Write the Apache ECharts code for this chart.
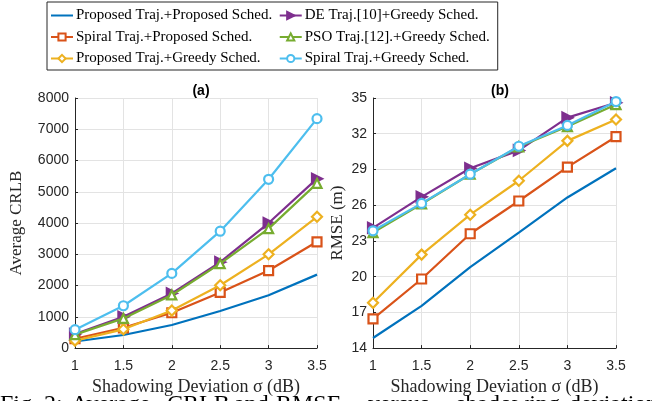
<!DOCTYPE html>
<html>
<head>
<meta charset="utf-8">
<script src="https://cdn.jsdelivr.net/npm/echarts@6/dist/echarts.min.js"></script>
<style>
  html, body { margin: 0; padding: 0; background: #fff; }
  #main { width: 652px; height: 401px; }
</style>
</head>
<body>
<div id="main"></div>
<script>
// shadowing deviation sigma (dB)
var sigma = [1, 1.5, 2, 2.5, 3, 3.5];

var names = [
  "Proposed Traj.+Proposed Sched.",
  "Spiral Traj.+Proposed Sched.",
  "Proposed Traj.+Greedy Sched.",
  "DE Traj.[10]+Greedy Sched.",
  "PSO Traj.[12].+Greedy Sched.",
  "Spiral Traj.+Greedy Sched."
];

// (a) average CRLB
var crlbPropProp = [210, 420, 740, 1185, 1690, 2350];
var crlbSpiralProp = [300, 650, 1130, 1780, 2480, 3400];
var crlbPropGreedy = [240, 600, 1200, 2010, 3000, 4200];
var crlbDE = [450, 1000, 1750, 2750, 4000, 5420];
var crlbPSO = [430, 950, 1700, 2700, 3820, 5270];
var crlbSpiralGreedy = [590, 1355, 2390, 3740, 5400, 7340];

// (b) RMSE (m)
var rmsePropProp = [14.85, 17.55, 20.8, 23.7, 26.65, 29.1];
var rmseSpiralProp = [16.45, 19.8, 23.6, 26.35, 29.2, 31.75];
var rmsePropGreedy = [17.8, 21.85, 25.2, 28.05, 31.4, 33.2];
var rmseDE = [24.1, 26.7, 29.1, 30.6, 33.35, 34.6];
var rmsePSO = [23.7, 26.1, 28.6, 30.9, 32.6, 34.45];
var rmseSpiralGreedy = [23.85, 26.15, 28.6, 30.95, 32.7, 34.7];

// caption words (cut off by the bottom edge, as in the source figure)
var captionWords = ["Fig. 2:", "Average", "CRLB", "and", "RMSE", "versus", "shadowing", "deviation"];
var captionX = [0, 71, 167, 234, 276, 368, 456, 569];

var colors = ["#0072BD", "#D95319", "#EDB120", "#7E2F8E", "#77AC30", "#4DBEEE"];
var symbols = ["circle", "rect", "diamond", "triangle", "triangle", "circle"];
var rotates = [0, 0, 0, -90, 0, 0];

function pairs(ys) {
  return sigma.map(function (x, i) { return [x, ys[i]]; });
}

function makeSeries(data, idx) {
  var out = [];
  for (var i = 0; i < data.length; i++) {
    var plain = i === 0;
    out.push({
      name: names[i],
      type: "line",
      xAxisIndex: idx,
      yAxisIndex: idx,
      data: pairs(data[i]),
      symbol: symbols[i],
      symbolSize: i === 3 ? 10 : (i === 2 ? 10 : 9),
      symbolRotate: rotates[i],
      showSymbol: !plain,
      lineStyle: { color: colors[i], width: 2.2 },
      itemStyle: plain
        ? { color: "rgba(0,0,0,0)", borderWidth: 0 }
        : { color: i === 3 ? colors[i] : "#fff", borderColor: colors[i], borderWidth: 2.2 },
      z: 2 + i,
      animation: false
    });
  }
  return out;
}

var tickFont = { fontFamily: "Liberation Sans", fontSize: 14, color: "#262626" };
var serif = "Liberation Serif";

function xAxis(gridIndex) {
  return {
    type: "value",
    gridIndex: gridIndex,
    min: 1, max: 3.5, interval: 0.5,
    name: "Shadowing Deviation \u03c3 (dB)",
    nameLocation: "middle",
    nameGap: 25,
    nameTextStyle: { fontFamily: serif, fontSize: 18, color: "#262626" },
    axisLine: { lineStyle: { color: "#262626", width: 1 } },
    axisTick: { inside: true, length: 3, lineStyle: { color: "#262626" } },
    axisLabel: Object.assign({ margin: 11 }, tickFont),
    splitLine: { show: true, lineStyle: { color: "#e3e3e3", width: 1 } }
  };
}

function yAxis(gridIndex, min, max, interval, name, gap) {
  return {
    type: "value",
    gridIndex: gridIndex,
    min: min, max: max, interval: interval,
    name: name,
    nameLocation: "middle",
    nameGap: gap,
    nameTextStyle: { fontFamily: serif, fontSize: 17, color: "#262626" },
    axisLine: { show: true, lineStyle: { color: "#262626", width: 1 } },
    axisTick: { show: true, inside: true, length: 3, lineStyle: { color: "#262626" } },
    axisLabel: Object.assign({ margin: 6, formatter: function (v) { return String(v); } }, tickFont),
    splitLine: { show: true, lineStyle: { color: "#e3e3e3", width: 1 } }
  };
}

var chart = echarts.init(document.getElementById("main"));
var option = {
  backgroundColor: "#fff",
  animation: false,
  title: [
    { text: "(a)", left: 196, top: 79, textAlign: "center",
      textStyle: { fontFamily: "Liberation Sans", fontSize: 14, fontWeight: "bold", color: "#000" } },
    { text: "(b)", left: 495, top: 79, textAlign: "center",
      textStyle: { fontFamily: "Liberation Sans", fontSize: 14, fontWeight: "bold", color: "#000" } }
  ],
  legend: {
    orient: "vertical",
    left: 47,
    top: 2,
    height: 64,
    padding: [6, 8, 4, 3],
    itemWidth: 22,
    itemHeight: 9,
    itemGap: 6.5,
    borderColor: "#262626",
    borderWidth: 1,
    backgroundColor: "#fff",
    textStyle: { fontFamily: serif, fontSize: 15, color: "#000", padding: [0, 0, 0, -2] },
    data: names
  },
  grid: [
    { left: 75, top: 98, width: 242, height: 252 },
    { left: 373, top: 98, width: 243, height: 252 }
  ],
  xAxis: [xAxis(0), xAxis(1)],
  yAxis: [
    yAxis(0, 0, 8000, 1000, "Average CRLB", 50),
    yAxis(1, 14, 35, 3, "RMSE (m)", 27)
  ],
  graphic: captionWords.map(function (w, i) {
    return { type: "text", left: captionX[i], top: 393,
      style: { text: w, font: "24px Liberation Serif", fill: "#000" } };
  }),
  series: makeSeries([crlbPropProp, crlbSpiralProp, crlbPropGreedy, crlbDE, crlbPSO, crlbSpiralGreedy], 0)
    .concat(makeSeries([rmsePropProp, rmseSpiralProp, rmsePropGreedy, rmseDE, rmsePSO, rmseSpiralGreedy], 1))
};
chart.setOption(option);
</script>
</body>
</html>
